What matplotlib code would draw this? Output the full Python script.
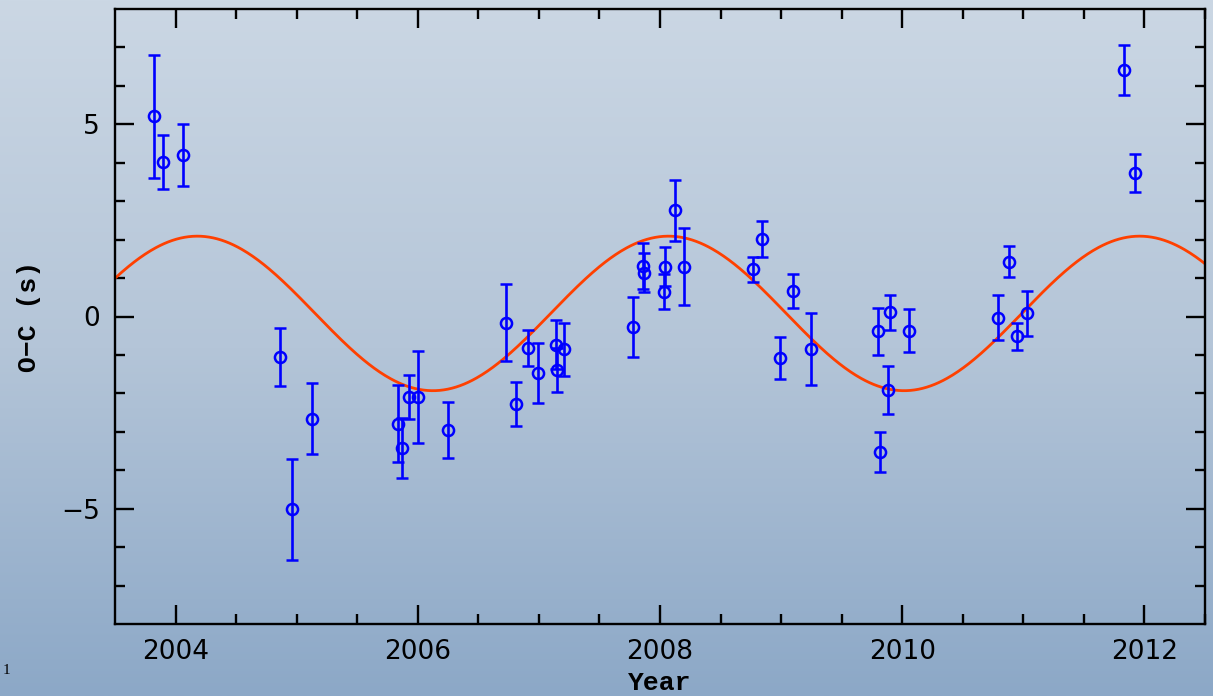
import numpy as np
import matplotlib.pyplot as plt
from matplotlib.colors import LinearSegmentedColormap

# O-C timing residuals
year = [2003.82, 2003.90, 2004.06, 2004.86, 2004.96, 2005.13,
        2005.84, 2005.87, 2005.93, 2006.00, 2006.25,
        2006.73, 2006.81, 2006.91, 2006.99, 2007.14, 2007.15, 2007.21,
        2007.78, 2007.86, 2007.87, 2008.03, 2008.04, 2008.12, 2008.20,
        2008.77, 2008.84, 2008.99, 2009.10, 2009.25,
        2009.80, 2009.82, 2009.88, 2009.90, 2010.06,
        2010.79, 2010.88, 2010.95, 2011.03, 2011.83, 2011.92]
oc = [5.21, 4.02, 4.20, -1.05, -5.02, -2.66,
      -2.79, -3.42, -2.09, -2.09, -2.95,
      -0.16, -2.27, -0.82, -1.47, -0.73, -1.40, -0.85,
      -0.27, 1.32, 1.14, 0.65, 1.30, 2.76, 1.30,
      1.23, 2.01, -1.08, 0.67, -0.85,
      -0.39, -3.53, -1.92, 0.11, -0.37,
      -0.03, 1.43, -0.52, 0.08, 6.41, 3.74]
err = [1.60, 0.71, 0.81, 0.76, 1.31, 0.92,
       1.00, 0.77, 0.57, 1.20, 0.72,
       1.00, 0.57, 0.47, 0.78, 0.63, 0.57, 0.69,
       0.78, 0.60, 0.50, 0.46, 0.50, 0.80, 1.00,
       0.32, 0.47, 0.54, 0.44, 0.93,
       0.60, 0.52, 0.62, 0.45, 0.56,
       0.58, 0.41, 0.34, 0.58, 0.66, 0.49]

# sinusoidal model
amp = 2.01
period = 3.89
t_max = 2004.18
offset = 0.08

W, H, DPI = 1213, 696, 100
fig = plt.figure(figsize=(W / DPI, H / DPI), dpi=DPI)

# background gradient
bg = fig.add_axes([0, 0, 1, 1], zorder=-10)
cmap = LinearSegmentedColormap.from_list('bg', ['#cbd7e4', '#b4c5d8', '#8ca8c7'])
bg.imshow(np.linspace(0, 1, 256).reshape(-1, 1), aspect='auto', cmap=cmap,
          extent=[0, 1, 0, 1], origin='upper')
bg.axis('off')

ax = fig.add_axes([115 / W, 1 - 624 / H, (1205 - 115) / W, (624 - 9) / H])
ax.set_facecolor('none')

t = np.linspace(2003.5, 2012.5, 800)
ax.plot(t, offset + amp * np.cos(2 * np.pi * (t - t_max) / period),
        color='#ff4000', lw=2.0, zorder=2)

ax.errorbar(year, oc, yerr=err, fmt='o', mfc='none', mec='#0000ff', mew=1.8,
            ms=8, ecolor='#0000ff', elinewidth=1.9, capsize=4.2, capthick=1.9,
            zorder=3)

ax.set_xlim(2003.5, 2012.5)
ax.set_ylim(-8, 8)
ax.set_xticks([2004, 2006, 2008, 2010, 2012])
ax.set_xticks(np.arange(2004, 2012.6, 0.5), minor=True)
ax.set_yticks([-5, 0, 5])
ax.set_yticks(np.arange(-7, 8, 1), minor=True)
ax.set_yticklabels(['\u22125', '0', '5'])

for s in ax.spines.values():
    s.set_linewidth(1.7)
ax.tick_params(which='both', direction='in', top=True, right=True, width=1.7,
               colors='black')
ax.tick_params(which='major', length=14)
ax.tick_params(which='minor', length=7.5)
ax.tick_params(axis='x', which='major', pad=11, labelsize=19)
ax.tick_params(axis='y', which='major', pad=11, labelsize=19)

ax.set_xlabel('Year', family='Liberation Mono', fontsize=19, fontweight='bold',
              labelpad=4)
ax.set_ylabel('O\u2212C (s)', family='Liberation Mono', fontsize=19,
              fontweight='bold', labelpad=14)

fig.text(3 / W, 1 - 671 / H, '1', family='Liberation Serif', fontsize=11,
         va='center', ha='left')

fig.savefig('out.png', dpi=DPI)
